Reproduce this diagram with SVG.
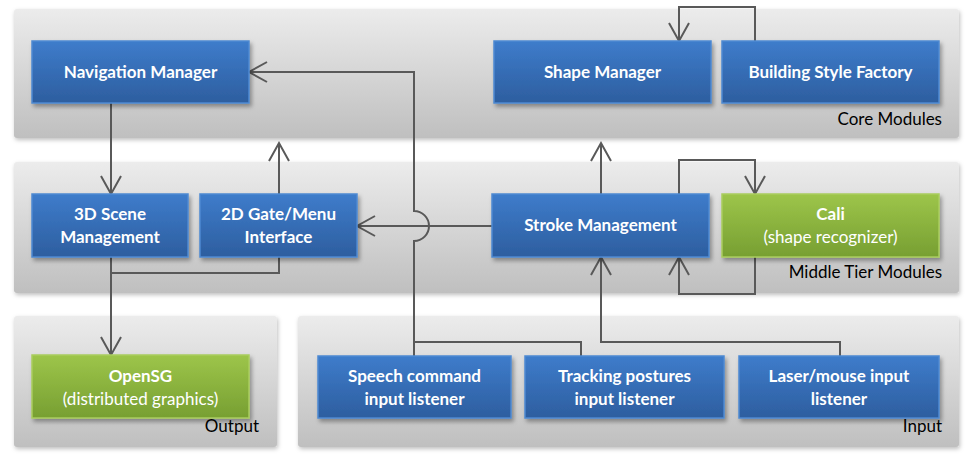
<svg xmlns="http://www.w3.org/2000/svg" width="969" height="460" viewBox="0 0 969 460">
<defs>
<linearGradient id="gPanel" x1="0" y1="0" x2="0" y2="1">
<stop offset="0" stop-color="#ececec"/><stop offset="1" stop-color="#bfbfbf"/>
</linearGradient>
<linearGradient id="gBlue" x1="0" y1="0" x2="0" y2="1">
<stop offset="0" stop-color="#3e7ccb"/><stop offset="1" stop-color="#2d5e9f"/>
</linearGradient>
<linearGradient id="gGreen" x1="0" y1="0" x2="0" y2="1">
<stop offset="0" stop-color="#9dc54a"/><stop offset="1" stop-color="#779f32"/>
</linearGradient>
<filter id="sh" x="-10%" y="-20%" width="125%" height="150%">
<feDropShadow dx="2" dy="3" stdDeviation="2" flood-color="#000" flood-opacity="0.35"/>
</filter>
<filter id="psh" x="-5%" y="-10%" width="110%" height="125%">
<feDropShadow dx="1" dy="2" stdDeviation="2" flood-color="#000" flood-opacity="0.25"/>
</filter>
<marker id="arr" markerUnits="userSpaceOnUse" markerWidth="24" markerHeight="24" viewBox="-20 -12 24 24" refX="0" refY="0" orient="auto">
<path d="M-18,-10 L0,0 L-18,10" fill="none" stroke="#595959" stroke-width="2"/>
</marker>
</defs>
<style>
.panel{fill:url(#gPanel);filter:url(#psh)}
.blue{fill:url(#gBlue);stroke:#4d89d2;stroke-width:1.5;filter:url(#sh)}
.green{fill:url(#gGreen);stroke:#a9cd5e;stroke-width:1.5;filter:url(#sh)}
.t{font-family:Lato,"Liberation Sans",sans-serif;font-size:17px;fill:#fff;text-anchor:middle}
.b{font-weight:bold}
.lbl{font-family:Lato,"Liberation Sans",sans-serif;font-size:17px;fill:#000;text-anchor:end}
.c{fill:none;stroke:#595959;stroke-width:2}
.ca{fill:none;stroke:#595959;stroke-width:2;marker-end:url(#arr)}
</style>

<g id="panels">
<rect class="panel" x="14" y="9" width="945" height="129" rx="3"/>
<rect class="panel" x="14" y="162" width="945" height="131" rx="3"/>
<rect class="panel" x="14" y="316" width="263" height="131" rx="3"/>
<rect class="panel" x="298" y="316" width="661" height="131" rx="3"/>
<text class="lbl" x="942" y="125">Core Modules</text>
<text class="lbl" x="942" y="278">Middle Tier Modules</text>
<text class="lbl" x="259" y="432">Output</text>
<text class="lbl" x="942" y="432">Input</text>
</g>

<g id="connectors">
<path class="ca" d="M755,41 V7 H679 V41"/>
<path class="ca" d="M111,103 V194"/>
<path class="ca" d="M279,194 V143"/>
<path class="ca" d="M601,194 V143"/>
<path class="ca" d="M492,226 H357"/>
<path class="ca" d="M414,356 V241 A15,15 0 0 0 414,211 V72 H249"/>
<path class="ca" d="M111,257 V355"/>
<path class="c" d="M279,257 V273 H111"/>
<path class="ca" d="M679,194 V160 H755 V194"/>
<path class="ca" d="M755,257 V294 H679 V257"/>
<path class="c" d="M581,356 V342 H414"/>
<path class="ca" d="M840,356 V342 H601 V257"/>
</g>

<g id="nav"><rect class="blue" x="32" y="41" width="217" height="62"/><text class="t b" x="140.5" y="78">Navigation Manager</text></g>
<g id="shape"><rect class="blue" x="494" y="41" width="217" height="62"/><text class="t b" x="602.5" y="78">Shape Manager</text></g>
<g id="bsf"><rect class="blue" x="722" y="41" width="217" height="62"/><text class="t b" x="830.5" y="78">Building Style Factory</text></g>
<g id="scene3d"><rect class="blue" x="32" y="194" width="156" height="63"/><text class="t b" x="110" y="220">3D Scene</text><text class="t b" x="110" y="243">Management</text></g>
<g id="gate2d"><rect class="blue" x="200" y="194" width="157" height="63"/><text class="t b" x="278.5" y="220">2D Gate/Menu</text><text class="t b" x="278.5" y="243">Interface</text></g>
<g id="stroke"><rect class="blue" x="492" y="194" width="217" height="63"/><text class="t b" x="600.5" y="231">Stroke Management</text></g>
<g id="cali"><rect class="green" x="722" y="194" width="217" height="63"/><text class="t b" x="830.5" y="220">Cali</text><text class="t" x="830.5" y="243">(shape recognizer)</text></g>
<g id="opensg"><rect class="green" x="32" y="355" width="217" height="63"/><text class="t b" x="140.5" y="382">OpenSG</text><text class="t" x="140.5" y="405">(distributed graphics)</text></g>
<g id="speech"><rect class="blue" x="318" y="356" width="193" height="62"/><text class="t b" x="414.5" y="382">Speech command</text><text class="t b" x="414.5" y="405">input listener</text></g>
<g id="tracking"><rect class="blue" x="525" y="356" width="199" height="62"/><text class="t b" x="624.5" y="382">Tracking postures</text><text class="t b" x="624.5" y="405">input listener</text></g>
<g id="laser"><rect class="blue" x="739" y="356" width="200" height="62"/><text class="t b" x="839" y="382">Laser/mouse input</text><text class="t b" x="839" y="405">listener</text></g>
</svg>
